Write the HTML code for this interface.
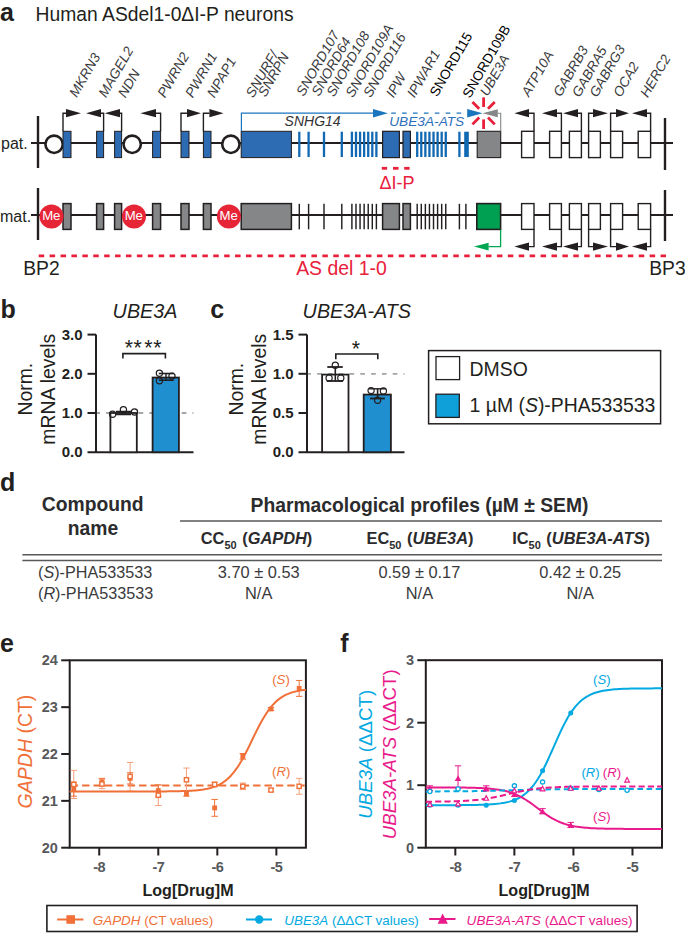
<!DOCTYPE html>
<html><head><meta charset="utf-8"><style>
html,body{margin:0;padding:0;background:#fff;}
svg{display:block;font-family:"Liberation Sans", sans-serif;}
</style></head><body>
<svg width="685" height="933" viewBox="0 0 685 933">
<rect width="685" height="933" fill="#fff"/>
<text x="0" y="21.2" font-size="25" fill="#231f20" font-weight="bold" font-style="normal" text-anchor="start" >a</text>
<text x="35.6" y="21" font-size="19.3" fill="#231f20" font-weight="normal" font-style="normal" text-anchor="start" >Human ASdel1-0ΔI-P neurons</text>
<text x="1" y="149.2" font-size="16" fill="#231f20" font-weight="normal" font-style="normal" text-anchor="start" >pat.</text>
<text x="0" y="221.8" font-size="16" fill="#231f20" font-weight="normal" font-style="normal" text-anchor="start" >mat.</text>
<line x1="31" y1="143.0" x2="673" y2="143.0" stroke="#231f20" stroke-width="1.8" />
<line x1="31" y1="215.0" x2="673" y2="215.0" stroke="#231f20" stroke-width="1.8" />
<line x1="38" y1="116" x2="38" y2="168" stroke="#231f20" stroke-width="2.4" />
<line x1="38" y1="188" x2="38" y2="240" stroke="#231f20" stroke-width="2.4" />
<line x1="665" y1="118" x2="665" y2="170" stroke="#231f20" stroke-width="2.4" />
<line x1="665" y1="190" x2="665" y2="241" stroke="#231f20" stroke-width="2.4" />
<circle cx="54.1" cy="144.3" r="8.65" fill="#fff" stroke="#231f20" stroke-width="2.6"/>
<circle cx="132.2" cy="144.3" r="8.65" fill="#fff" stroke="#231f20" stroke-width="2.6"/>
<circle cx="230.85" cy="144.3" r="8.65" fill="#fff" stroke="#231f20" stroke-width="2.6"/>
<rect x="63" y="131.3" width="8" height="26.299999999999983" fill="#2d6bb3" stroke="#231f20" stroke-width="1" />
<rect x="63" y="203.6" width="8" height="25.80000000000001" fill="#858688" stroke="#231f20" stroke-width="1.5" />
<rect x="96.6" y="131.3" width="7.0" height="26.299999999999983" fill="#2d6bb3" stroke="#231f20" stroke-width="1" />
<rect x="96.6" y="203.6" width="7.0" height="25.80000000000001" fill="#858688" stroke="#231f20" stroke-width="1.5" />
<rect x="114.6" y="131.3" width="7.0" height="26.299999999999983" fill="#2d6bb3" stroke="#231f20" stroke-width="1" />
<rect x="114.6" y="203.6" width="7.0" height="25.80000000000001" fill="#858688" stroke="#231f20" stroke-width="1.5" />
<rect x="152.6" y="131.3" width="8.0" height="26.299999999999983" fill="#2d6bb3" stroke="#231f20" stroke-width="1" />
<rect x="152.6" y="203.6" width="8.0" height="25.80000000000001" fill="#858688" stroke="#231f20" stroke-width="1.5" />
<rect x="181" y="131.3" width="8" height="26.299999999999983" fill="#2d6bb3" stroke="#231f20" stroke-width="1" />
<rect x="181" y="203.6" width="8" height="25.80000000000001" fill="#858688" stroke="#231f20" stroke-width="1.5" />
<rect x="203.4" y="131.3" width="7.599999999999994" height="26.299999999999983" fill="#2d6bb3" stroke="#231f20" stroke-width="1" />
<rect x="203.4" y="203.6" width="7.599999999999994" height="25.80000000000001" fill="#858688" stroke="#231f20" stroke-width="1.5" />
<rect x="241.2" y="131.3" width="50.2" height="26.299999999999983" fill="#2d6bb3" stroke="#231f20" stroke-width="1" />
<rect x="241.2" y="203.6" width="50.2" height="25.80000000000001" fill="#858688" stroke="#231f20" stroke-width="1.5" />
<rect x="382.6" y="131.3" width="16.799999999999955" height="26.299999999999983" fill="#2d6bb3" stroke="#231f20" stroke-width="1.2" />
<rect x="382.6" y="203.6" width="16.799999999999955" height="25.80000000000001" fill="#858688" stroke="#231f20" stroke-width="1.5" />
<rect x="403" y="131.3" width="7.399999999999977" height="26.299999999999983" fill="#2d6bb3" stroke="#231f20" stroke-width="1.2" />
<rect x="403" y="203.6" width="7.399999999999977" height="25.80000000000001" fill="#858688" stroke="#231f20" stroke-width="1.5" />
<line x1="299.3" y1="131.70000000000002" x2="299.3" y2="157.0" stroke="#1168b3" stroke-width="2.3" />
<line x1="308.6" y1="131.70000000000002" x2="308.6" y2="157.0" stroke="#1168b3" stroke-width="2.3" />
<line x1="324" y1="131.70000000000002" x2="324" y2="157.0" stroke="#1168b3" stroke-width="2.3" />
<line x1="341.8" y1="131.70000000000002" x2="341.8" y2="157.0" stroke="#1168b3" stroke-width="2.3" />
<line x1="351.9" y1="131.70000000000002" x2="351.9" y2="157.0" stroke="#1168b3" stroke-width="2.3" />
<line x1="355.97999999999996" y1="131.70000000000002" x2="355.97999999999996" y2="157.0" stroke="#1168b3" stroke-width="2.3" />
<line x1="360.06" y1="131.70000000000002" x2="360.06" y2="157.0" stroke="#1168b3" stroke-width="2.3" />
<line x1="364.14" y1="131.70000000000002" x2="364.14" y2="157.0" stroke="#1168b3" stroke-width="2.3" />
<line x1="368.21999999999997" y1="131.70000000000002" x2="368.21999999999997" y2="157.0" stroke="#1168b3" stroke-width="2.3" />
<line x1="372.29999999999995" y1="131.70000000000002" x2="372.29999999999995" y2="157.0" stroke="#1168b3" stroke-width="2.3" />
<line x1="376.38" y1="131.70000000000002" x2="376.38" y2="157.0" stroke="#1168b3" stroke-width="2.3" />
<line x1="417.2" y1="131.70000000000002" x2="417.2" y2="157.0" stroke="#1168b3" stroke-width="2.3" />
<line x1="421.28" y1="131.70000000000002" x2="421.28" y2="157.0" stroke="#1168b3" stroke-width="2.3" />
<line x1="425.36" y1="131.70000000000002" x2="425.36" y2="157.0" stroke="#1168b3" stroke-width="2.3" />
<line x1="429.44" y1="131.70000000000002" x2="429.44" y2="157.0" stroke="#1168b3" stroke-width="2.3" />
<line x1="433.52" y1="131.70000000000002" x2="433.52" y2="157.0" stroke="#1168b3" stroke-width="2.3" />
<line x1="437.59999999999997" y1="131.70000000000002" x2="437.59999999999997" y2="157.0" stroke="#1168b3" stroke-width="2.3" />
<line x1="441.68" y1="131.70000000000002" x2="441.68" y2="157.0" stroke="#1168b3" stroke-width="2.3" />
<line x1="445.76" y1="131.70000000000002" x2="445.76" y2="157.0" stroke="#1168b3" stroke-width="2.3" />
<line x1="459.4" y1="131.70000000000002" x2="459.4" y2="157.0" stroke="#1168b3" stroke-width="2.3" />
<rect x="464.2" y="131.70000000000002" width="4.6" height="25.299999999999983" fill="#1168b3" stroke="none" stroke-width="1" />
<line x1="299.3" y1="203.79999999999998" x2="299.3" y2="229.3" stroke="#231f20" stroke-width="1.45" />
<line x1="308.6" y1="203.79999999999998" x2="308.6" y2="229.3" stroke="#231f20" stroke-width="1.45" />
<line x1="324" y1="203.79999999999998" x2="324" y2="229.3" stroke="#231f20" stroke-width="1.45" />
<line x1="341.8" y1="203.79999999999998" x2="341.8" y2="229.3" stroke="#231f20" stroke-width="1.45" />
<line x1="351.9" y1="203.79999999999998" x2="351.9" y2="229.3" stroke="#231f20" stroke-width="1.45" />
<line x1="355.97999999999996" y1="203.79999999999998" x2="355.97999999999996" y2="229.3" stroke="#231f20" stroke-width="1.45" />
<line x1="360.06" y1="203.79999999999998" x2="360.06" y2="229.3" stroke="#231f20" stroke-width="1.45" />
<line x1="364.14" y1="203.79999999999998" x2="364.14" y2="229.3" stroke="#231f20" stroke-width="1.45" />
<line x1="368.21999999999997" y1="203.79999999999998" x2="368.21999999999997" y2="229.3" stroke="#231f20" stroke-width="1.45" />
<line x1="372.29999999999995" y1="203.79999999999998" x2="372.29999999999995" y2="229.3" stroke="#231f20" stroke-width="1.45" />
<line x1="376.38" y1="203.79999999999998" x2="376.38" y2="229.3" stroke="#231f20" stroke-width="1.45" />
<line x1="417.2" y1="203.79999999999998" x2="417.2" y2="229.3" stroke="#231f20" stroke-width="1.45" />
<line x1="421.28" y1="203.79999999999998" x2="421.28" y2="229.3" stroke="#231f20" stroke-width="1.45" />
<line x1="425.36" y1="203.79999999999998" x2="425.36" y2="229.3" stroke="#231f20" stroke-width="1.45" />
<line x1="429.44" y1="203.79999999999998" x2="429.44" y2="229.3" stroke="#231f20" stroke-width="1.45" />
<line x1="433.52" y1="203.79999999999998" x2="433.52" y2="229.3" stroke="#231f20" stroke-width="1.45" />
<line x1="437.59999999999997" y1="203.79999999999998" x2="437.59999999999997" y2="229.3" stroke="#231f20" stroke-width="1.45" />
<line x1="441.68" y1="203.79999999999998" x2="441.68" y2="229.3" stroke="#231f20" stroke-width="1.45" />
<line x1="445.76" y1="203.79999999999998" x2="445.76" y2="229.3" stroke="#231f20" stroke-width="1.45" />
<line x1="459.4" y1="203.79999999999998" x2="459.4" y2="229.3" stroke="#231f20" stroke-width="1.45" />
<line x1="465.9" y1="203.79999999999998" x2="465.9" y2="229.3" stroke="#231f20" stroke-width="1.45" />
<rect x="477.2" y="131.3" width="23.5" height="26.299999999999983" fill="#858688" stroke="#231f20" stroke-width="1.1" />
<rect x="476.8" y="203.6" width="23.8" height="25.80000000000001" fill="#00a053" stroke="#231f20" stroke-width="1.6" />
<rect x="521.6" y="131.3" width="12.399999999999977" height="26.299999999999983" fill="#fff" stroke="#231f20" stroke-width="1.4" />
<rect x="521.6" y="203.6" width="12.399999999999977" height="25.80000000000001" fill="#fff" stroke="#231f20" stroke-width="1.4" />
<rect x="549.6" y="131.3" width="11.799999999999955" height="26.299999999999983" fill="#fff" stroke="#231f20" stroke-width="1.4" />
<rect x="549.6" y="203.6" width="11.799999999999955" height="25.80000000000001" fill="#fff" stroke="#231f20" stroke-width="1.4" />
<rect x="569.4" y="131.3" width="12.0" height="26.299999999999983" fill="#fff" stroke="#231f20" stroke-width="1.4" />
<rect x="569.4" y="203.6" width="12.0" height="25.80000000000001" fill="#fff" stroke="#231f20" stroke-width="1.4" />
<rect x="588.6" y="131.3" width="11.799999999999955" height="26.299999999999983" fill="#fff" stroke="#231f20" stroke-width="1.4" />
<rect x="588.6" y="203.6" width="11.799999999999955" height="25.80000000000001" fill="#fff" stroke="#231f20" stroke-width="1.4" />
<rect x="610.6" y="131.3" width="12.0" height="26.299999999999983" fill="#fff" stroke="#231f20" stroke-width="1.4" />
<rect x="610.6" y="203.6" width="12.0" height="25.80000000000001" fill="#fff" stroke="#231f20" stroke-width="1.4" />
<rect x="638.2" y="131.3" width="12.399999999999977" height="26.299999999999983" fill="#fff" stroke="#231f20" stroke-width="1.4" />
<rect x="638.2" y="203.6" width="12.399999999999977" height="25.80000000000001" fill="#fff" stroke="#231f20" stroke-width="1.4" />
<path d="M63,131.3 L63,113.2 L66,113.2" stroke="#231f20" stroke-width="1.4" fill="none" />
<polygon points="81.00,113.20 66.00,109.10 66.00,117.30" fill="#231f20" />
<path d="M103.6,131.3 L103.6,113.2 L101,113.2" stroke="#231f20" stroke-width="1.4" fill="none" />
<polygon points="86.00,113.20 101.00,109.10 101.00,117.30" fill="#231f20" />
<path d="M121.6,131.3 L121.6,113.2 L120,113.2" stroke="#231f20" stroke-width="1.4" fill="none" />
<polygon points="104.60,113.20 120.00,109.10 120.00,117.30" fill="#231f20" />
<path d="M160.6,131.3 L160.6,113.2 L156,113.2" stroke="#231f20" stroke-width="1.4" fill="none" />
<polygon points="140.40,113.20 156.00,109.10 156.00,117.30" fill="#231f20" />
<path d="M181,131.3 L181,113.2 L187,113.2" stroke="#231f20" stroke-width="1.4" fill="none" />
<polygon points="201.00,113.20 187.00,109.10 187.00,117.30" fill="#231f20" />
<path d="M203.4,131.3 L203.4,113.2 L209.4,113.2" stroke="#231f20" stroke-width="1.4" fill="none" />
<polygon points="223.60,113.20 209.40,109.10 209.40,117.30" fill="#231f20" />
<path d="M534,131.3 L534,113.2 L529,113.2" stroke="#231f20" stroke-width="1.4" fill="none" />
<polygon points="514.40,113.20 529.00,109.10 529.00,117.30" fill="#231f20" />
<path d="M561.4,131.3 L561.4,113.2 L557,113.2" stroke="#231f20" stroke-width="1.4" fill="none" />
<polygon points="542.00,113.20 557.00,109.10 557.00,117.30" fill="#231f20" />
<path d="M581.4,131.3 L581.4,113.2 L578,113.2" stroke="#231f20" stroke-width="1.4" fill="none" />
<polygon points="563.00,113.20 578.00,109.10 578.00,117.30" fill="#231f20" />
<path d="M588.6,131.3 L588.6,113.2 L593,113.2" stroke="#231f20" stroke-width="1.4" fill="none" />
<polygon points="608.00,113.20 593.00,109.10 593.00,117.30" fill="#231f20" />
<path d="M610.6,131.3 L610.6,113.2 L616,113.2" stroke="#231f20" stroke-width="1.4" fill="none" />
<polygon points="629.00,113.20 616.00,109.10 616.00,117.30" fill="#231f20" />
<path d="M650.6,131.3 L650.6,113.2 L647,113.2" stroke="#231f20" stroke-width="1.4" fill="none" />
<polygon points="632.00,113.20 647.00,109.10 647.00,117.30" fill="#231f20" />
<path d="M534,229.4 L534,246.6 L529,246.6" stroke="#231f20" stroke-width="1.4" fill="none" />
<polygon points="514.40,246.60 529.00,242.50 529.00,250.70" fill="#231f20" />
<path d="M561.4,229.4 L561.4,246.6 L557,246.6" stroke="#231f20" stroke-width="1.4" fill="none" />
<polygon points="542.00,246.60 557.00,242.50 557.00,250.70" fill="#231f20" />
<path d="M581.4,229.4 L581.4,246.6 L578,246.6" stroke="#231f20" stroke-width="1.4" fill="none" />
<polygon points="563.00,246.60 578.00,242.50 578.00,250.70" fill="#231f20" />
<path d="M588.6,229.4 L588.6,246.6 L593,246.6" stroke="#231f20" stroke-width="1.4" fill="none" />
<polygon points="608.00,246.60 593.00,242.50 593.00,250.70" fill="#231f20" />
<path d="M610.6,229.4 L610.6,246.6 L616,246.6" stroke="#231f20" stroke-width="1.4" fill="none" />
<polygon points="629.00,246.60 616.00,242.50 616.00,250.70" fill="#231f20" />
<path d="M650.6,229.4 L650.6,246.6 L647,246.6" stroke="#231f20" stroke-width="1.4" fill="none" />
<polygon points="632.00,246.60 647.00,242.50 647.00,250.70" fill="#231f20" />
<path d="M241.4,131.3 L241.4,113.2 L374,113.2" stroke="#1b75bc" stroke-width="1.2" fill="none" />
<polygon points="387.90,113.20 373.00,109.00 373.00,117.40" fill="#1b75bc" />
<line x1="391.2" y1="113.2" x2="465" y2="113.2" stroke="#1b75bc" stroke-width="1.2" stroke-dasharray="4.6 6.3"/>
<text x="284.6" y="126.3" font-size="14" fill="#333" font-weight="normal" font-style="italic" text-anchor="start" >SNHG14</text>
<text x="389.2" y="125.8" font-size="13.7" fill="#2f6fba" font-weight="normal" font-style="italic" text-anchor="start" >UBE3A-ATS</text>
<polygon points="482.50,113.20 467.20,109.00 467.20,117.40" fill="#1b75bc" />
<path d="M500.7,131.3 L500.7,113.2 L497.8,113.2" stroke="#858688" stroke-width="1.1" fill="none" />
<polygon points="482.60,113.20 497.80,109.20 497.80,117.20" fill="#858688" />
<line x1="483.60" y1="107.00" x2="483.60" y2="97.40" stroke="#e8203a" stroke-width="2.8" />
<line x1="483.60" y1="119.40" x2="483.60" y2="129.00" stroke="#e8203a" stroke-width="2.8" />
<line x1="487.98" y1="108.82" x2="494.77" y2="102.03" stroke="#e8203a" stroke-width="2.8" />
<line x1="479.22" y1="108.82" x2="472.43" y2="102.03" stroke="#e8203a" stroke-width="2.8" />
<line x1="479.22" y1="117.58" x2="472.43" y2="124.37" stroke="#e8203a" stroke-width="2.8" />
<line x1="487.98" y1="117.58" x2="494.77" y2="124.37" stroke="#e8203a" stroke-width="2.8" />
<path d="M500.6,229.4 L500.6,246.6 L488.4,246.6" stroke="#00a651" stroke-width="1.3" fill="none" />
<polygon points="474.00,246.60 488.60,242.80 488.60,250.40" fill="#00a651" />
<circle cx="51.5" cy="216.5" r="12" fill="#e62537"/>
<text x="51.3" y="219.7" font-size="13.2" fill="#fff" font-weight="normal" font-style="normal" text-anchor="middle" >Me</text>
<circle cx="134" cy="216.5" r="12" fill="#e62537"/>
<text x="133.8" y="219.7" font-size="13.2" fill="#fff" font-weight="normal" font-style="normal" text-anchor="middle" >Me</text>
<circle cx="228.9" cy="216.5" r="12" fill="#e62537"/>
<text x="228.70000000000002" y="219.7" font-size="13.2" fill="#fff" font-weight="normal" font-style="normal" text-anchor="middle" >Me</text>
<line x1="381.8" y1="168.3" x2="387.1" y2="168.3" stroke="#e8203a" stroke-width="2.8" />
<line x1="393" y1="168.3" x2="398.5" y2="168.3" stroke="#e8203a" stroke-width="2.8" />
<line x1="404.2" y1="168.3" x2="409.6" y2="168.3" stroke="#e8203a" stroke-width="2.8" />
<text x="379.4" y="189" font-size="18" fill="#e8203a" font-weight="normal" font-style="normal" text-anchor="start" >ΔI-P</text>
<line x1="38.7" y1="255.8" x2="666" y2="255.8" stroke="#e8203a" stroke-width="2.8" stroke-dasharray="5.5 5.41"/>
<text x="23.2" y="274.6" font-size="19.3" fill="#231f20" font-weight="normal" font-style="normal" text-anchor="start" >BP2</text>
<text x="649.2" y="274.6" font-size="19.3" fill="#231f20" font-weight="normal" font-style="normal" text-anchor="start" >BP3</text>
<text x="296.2" y="274.6" font-size="19.4" fill="#e8203a" font-weight="normal" font-style="normal" text-anchor="start" >AS del 1-0</text>
<text x="76.80" y="98.10" font-size="13.7" fill="#3a3a3c" font-weight="normal" font-style="italic" text-anchor="start" transform="rotate(-60 76.80 98.10)">MKRN3</text>
<text x="106.10" y="98.20" font-size="13.7" fill="#3a3a3c" font-weight="normal" font-style="italic" text-anchor="start" transform="rotate(-60 106.10 98.20)">MAGEL2</text>
<text x="125.50" y="98.60" font-size="13.7" fill="#3a3a3c" font-weight="normal" font-style="italic" text-anchor="start" transform="rotate(-60 125.50 98.60)">NDN</text>
<text x="164.90" y="98.60" font-size="13.7" fill="#3a3a3c" font-weight="normal" font-style="italic" text-anchor="start" transform="rotate(-60 164.90 98.60)">PWRN2</text>
<text x="192.80" y="98.60" font-size="13.7" fill="#3a3a3c" font-weight="normal" font-style="italic" text-anchor="start" transform="rotate(-60 192.80 98.60)">PWRN1</text>
<text x="214.60" y="98.60" font-size="13.7" fill="#3a3a3c" font-weight="normal" font-style="italic" text-anchor="start" transform="rotate(-60 214.60 98.60)">NPAP1</text>
<text x="253.20" y="98.50" font-size="13.7" fill="#3a3a3c" font-weight="normal" font-style="italic" text-anchor="start" transform="rotate(-60 253.20 98.50)">SNURF/</text>
<text x="265.45" y="97.70" font-size="13.7" fill="#3a3a3c" font-weight="normal" font-style="italic" text-anchor="start" transform="rotate(-60 265.45 97.70)">SNRPN</text>
<text x="303.70" y="96.90" font-size="13.7" fill="#3a3a3c" font-weight="normal" font-style="italic" text-anchor="start" transform="rotate(-60 303.70 96.90)">SNORD107</text>
<text x="319.00" y="96.90" font-size="13.7" fill="#3a3a3c" font-weight="normal" font-style="italic" text-anchor="start" transform="rotate(-60 319.00 96.90)">SNORD64</text>
<text x="333.90" y="97.60" font-size="13.7" fill="#3a3a3c" font-weight="normal" font-style="italic" text-anchor="start" transform="rotate(-60 333.90 97.60)">SNORD108</text>
<text x="353.10" y="98.30" font-size="13.7" fill="#3a3a3c" font-weight="normal" font-style="italic" text-anchor="start" transform="rotate(-60 353.10 98.30)">SNORD109A</text>
<text x="370.80" y="98.30" font-size="13.7" fill="#3a3a3c" font-weight="normal" font-style="italic" text-anchor="start" transform="rotate(-60 370.80 98.30)">SNORD116</text>
<text x="393.50" y="98.60" font-size="13.7" fill="#3a3a3c" font-weight="normal" font-style="italic" text-anchor="start" transform="rotate(-60 393.50 98.60)">IPW</text>
<text x="414.50" y="98.60" font-size="13.7" fill="#3a3a3c" font-weight="normal" font-style="italic" text-anchor="start" transform="rotate(-60 414.50 98.60)">IPWAR1</text>
<text x="437.30" y="97.60" font-size="13.7" fill="#000" font-weight="normal" font-style="normal" text-anchor="start" transform="rotate(-60 437.30 97.60)">SNORD115</text>
<text x="470.00" y="99.00" font-size="13.7" fill="#000" font-weight="normal" font-style="normal" text-anchor="start" transform="rotate(-60 470.00 99.00)">SNORD109B</text>
<text x="487.40" y="97.00" font-size="13.7" fill="#3a3a3c" font-weight="normal" font-style="italic" text-anchor="start" transform="rotate(-60 487.40 97.00)">UBE3A</text>
<text x="529.00" y="97.60" font-size="13.7" fill="#3a3a3c" font-weight="normal" font-style="italic" text-anchor="start" transform="rotate(-60 529.00 97.60)">ATP10A</text>
<text x="560.80" y="97.50" font-size="13.7" fill="#3a3a3c" font-weight="normal" font-style="italic" text-anchor="start" transform="rotate(-60 560.80 97.50)">GABRB3</text>
<text x="579.60" y="97.90" font-size="13.7" fill="#3a3a3c" font-weight="normal" font-style="italic" text-anchor="start" transform="rotate(-60 579.60 97.90)">GABRA5</text>
<text x="597.00" y="97.90" font-size="13.7" fill="#3a3a3c" font-weight="normal" font-style="italic" text-anchor="start" transform="rotate(-60 597.00 97.90)">GABRG3</text>
<text x="620.80" y="97.90" font-size="13.7" fill="#3a3a3c" font-weight="normal" font-style="italic" text-anchor="start" transform="rotate(-60 620.80 97.90)">OCA2</text>
<text x="647.80" y="98.30" font-size="13.7" fill="#3a3a3c" font-weight="normal" font-style="italic" text-anchor="start" transform="rotate(-60 647.80 98.30)">HERC2</text>
<line x1="95.3" y1="413.0" x2="193.5" y2="413.0" stroke="#a2a6a9" stroke-width="1.8" stroke-dasharray="4.7 6.1"/>
<line x1="96" y1="334.6" x2="96" y2="452.2" stroke="#231f20" stroke-width="2" />
<line x1="87.5" y1="452.2" x2="193.5" y2="452.2" stroke="#231f20" stroke-width="2" />
<text x="82.6" y="457.4" font-size="15" fill="#231f20" font-weight="bold" font-style="normal" text-anchor="end" >0.0</text>
<line x1="87.5" y1="413.0" x2="96" y2="413.0" stroke="#231f20" stroke-width="2" />
<text x="82.6" y="418.2" font-size="15" fill="#231f20" font-weight="bold" font-style="normal" text-anchor="end" >1.0</text>
<line x1="87.5" y1="373.8" x2="96" y2="373.8" stroke="#231f20" stroke-width="2" />
<text x="82.6" y="379.0" font-size="15" fill="#231f20" font-weight="bold" font-style="normal" text-anchor="end" >2.0</text>
<line x1="87.5" y1="334.6" x2="96" y2="334.6" stroke="#231f20" stroke-width="2" />
<text x="82.6" y="339.8" font-size="15" fill="#231f20" font-weight="bold" font-style="normal" text-anchor="end" >3.0</text>
<rect x="110.4" y="413.0" width="26.400000000000006" height="39.19999999999999" fill="#fff" stroke="#231f20" stroke-width="1.8" />
<rect x="152.6" y="377.5632" width="26.30000000000001" height="74.6368" fill="#208fcf" stroke="#231f20" stroke-width="1.8" />
<line x1="306.3" y1="373.8" x2="404.5" y2="373.8" stroke="#a2a6a9" stroke-width="1.8" stroke-dasharray="4.7 6.1"/>
<line x1="307" y1="334.6" x2="307" y2="452.2" stroke="#231f20" stroke-width="2" />
<line x1="298.5" y1="452.2" x2="404.5" y2="452.2" stroke="#231f20" stroke-width="2" />
<text x="293.6" y="457.4" font-size="15" fill="#231f20" font-weight="bold" font-style="normal" text-anchor="end" >0.0</text>
<line x1="298.5" y1="413.0" x2="307" y2="413.0" stroke="#231f20" stroke-width="2" />
<text x="293.6" y="418.2" font-size="15" fill="#231f20" font-weight="bold" font-style="normal" text-anchor="end" >0.5</text>
<line x1="298.5" y1="373.8" x2="307" y2="373.8" stroke="#231f20" stroke-width="2" />
<text x="293.6" y="379.0" font-size="15" fill="#231f20" font-weight="bold" font-style="normal" text-anchor="end" >1.0</text>
<line x1="298.5" y1="334.6" x2="307" y2="334.6" stroke="#231f20" stroke-width="2" />
<text x="293.6" y="339.8" font-size="15" fill="#231f20" font-weight="bold" font-style="normal" text-anchor="end" >1.5</text>
<rect x="322.1" y="374.584" width="26.399999999999977" height="77.61599999999999" fill="#fff" stroke="#231f20" stroke-width="1.8" />
<rect x="363.7" y="394.576" width="27.19999999999999" height="57.62399999999997" fill="#208fcf" stroke="#231f20" stroke-width="1.8" />
<text x="0.5" y="317.8" font-size="25" fill="#231f20" font-weight="bold" font-style="normal" text-anchor="start" >b</text>
<text x="112.6" y="317.6" font-size="19.8" fill="#231f20" font-weight="normal" font-style="italic" text-anchor="start" >UBE3A</text>
<text x="210.3" y="318" font-size="25" fill="#231f20" font-weight="bold" font-style="normal" text-anchor="start" >c</text>
<text x="302.6" y="317.8" font-size="19.8" fill="#231f20" font-weight="normal" font-style="italic" text-anchor="start" >UBE3A-ATS</text>
<text x="31.8" y="389.2" font-size="19.4" fill="#231f20" font-weight="normal" font-style="normal" text-anchor="middle" transform="rotate(-90 31.8 389.2)">Norm.</text>
<text x="55.1" y="389.2" font-size="19.4" fill="#231f20" font-weight="normal" font-style="normal" text-anchor="middle" transform="rotate(-90 55.1 389.2)">mRNA levels</text>
<text x="243.1" y="389.2" font-size="19.4" fill="#231f20" font-weight="normal" font-style="normal" text-anchor="middle" transform="rotate(-90 243.1 389.2)">Norm.</text>
<text x="266.4" y="389.2" font-size="19.4" fill="#231f20" font-weight="normal" font-style="normal" text-anchor="middle" transform="rotate(-90 266.4 389.2)">mRNA levels</text>
<path d="M122.9,358.6 L122.9,353.6 L165.4,353.6 L165.4,358.6" stroke="#231f20" stroke-width="1.6" fill="none" />
<text x="128.8" y="355.4" font-size="21.3" fill="#231f20" font-weight="normal" font-style="normal" text-anchor="middle" >*</text>
<text x="137.7" y="355.4" font-size="21.3" fill="#231f20" font-weight="normal" font-style="normal" text-anchor="middle" >*</text>
<text x="148.5" y="355.4" font-size="21.3" fill="#231f20" font-weight="normal" font-style="normal" text-anchor="middle" >*</text>
<text x="157.4" y="355.4" font-size="21.3" fill="#231f20" font-weight="normal" font-style="normal" text-anchor="middle" >*</text>
<path d="M335.8,359.2 L335.8,354 L377.8,354 L377.8,359.2" stroke="#231f20" stroke-width="1.6" fill="none" />
<text x="355.8" y="356.2" font-size="21.3" fill="#231f20" font-weight="normal" font-style="normal" text-anchor="middle" >*</text>
<circle cx="112.6" cy="414.3" r="3.1" fill="none" stroke="#231f20" stroke-width="1.2"/>
<circle cx="123.4" cy="409.8" r="3.1" fill="none" stroke="#231f20" stroke-width="1.2"/>
<circle cx="134.5" cy="412" r="3.1" fill="none" stroke="#231f20" stroke-width="1.2"/>
<line x1="116" y1="411.6" x2="131" y2="411.6" stroke="#231f20" stroke-width="1.7" />
<line x1="116" y1="414.4" x2="131" y2="414.4" stroke="#231f20" stroke-width="1.7" />
<circle cx="159.4" cy="373.2" r="3.1" fill="none" stroke="#231f20" stroke-width="1.2"/>
<circle cx="159.4" cy="380.8" r="3.1" fill="none" stroke="#231f20" stroke-width="1.2"/>
<circle cx="172" cy="376.1" r="3.1" fill="none" stroke="#231f20" stroke-width="1.2"/>
<line x1="166" y1="373.5" x2="166" y2="380.2" stroke="#231f20" stroke-width="1.4" />
<line x1="158.8" y1="373.5" x2="173.7" y2="373.5" stroke="#231f20" stroke-width="1.6" />
<line x1="158.8" y1="380.2" x2="173.7" y2="380.2" stroke="#231f20" stroke-width="1.6" />
<line x1="335.3" y1="367" x2="335.3" y2="381" stroke="#231f20" stroke-width="1.6" />
<line x1="327.3" y1="367" x2="342.8" y2="367" stroke="#231f20" stroke-width="1.8" />
<line x1="326.8" y1="381" x2="343.1" y2="381" stroke="#231f20" stroke-width="1.8" />
<circle cx="335.3" cy="365.3" r="3.1" fill="none" stroke="#231f20" stroke-width="1.2"/>
<circle cx="329.1" cy="378.1" r="3.1" fill="none" stroke="#231f20" stroke-width="1.2"/>
<circle cx="340.8" cy="378.1" r="3.1" fill="none" stroke="#231f20" stroke-width="1.2"/>
<line x1="377.6" y1="388.6" x2="377.6" y2="398.5" stroke="#231f20" stroke-width="1.6" />
<line x1="370" y1="398.5" x2="384.8" y2="398.5" stroke="#231f20" stroke-width="1.8" />
<line x1="369" y1="388.8" x2="386" y2="388.8" stroke="#231f20" stroke-width="1.4" />
<circle cx="371.1" cy="390.6" r="3.1" fill="none" stroke="#231f20" stroke-width="1.2"/>
<circle cx="383.4" cy="391" r="3.1" fill="none" stroke="#231f20" stroke-width="1.2"/>
<circle cx="377.6" cy="400.3" r="3.1" fill="none" stroke="#231f20" stroke-width="1.2"/>
<rect x="428.6" y="350.6" width="232" height="73.2" fill="none" stroke="#231f20" stroke-width="1.5" />
<rect x="436" y="356.6" width="23.6" height="23" fill="#fff" stroke="#231f20" stroke-width="1.3" />
<rect x="435.9" y="394.2" width="23.4" height="23.2" fill="#0fa0da" stroke="#231f20" stroke-width="1.3" />
<text x="469.6" y="376.2" font-size="19.4" fill="#231f20" font-weight="normal" font-style="normal" text-anchor="start" >DMSO</text>
<text x="469.6" y="412.4" font-size="19.4" fill="#231f20" font-weight="normal" font-style="normal" text-anchor="start" >1 µM (<tspan font-style="italic">S</tspan>)-PHA533533</text>
<text x="0" y="491.3" font-size="25" fill="#231f20" font-weight="bold" font-style="normal" text-anchor="start" >d</text>
<text x="92.7" y="511" font-size="19.3" fill="#2b2b2d" font-weight="bold" font-style="normal" text-anchor="middle" >Compound</text>
<text x="93" y="534.6" font-size="19.3" fill="#2b2b2d" font-weight="bold" font-style="normal" text-anchor="middle" >name</text>
<text x="419.5" y="511.6" font-size="19.3" fill="#2b2b2d" font-weight="bold" font-style="normal" text-anchor="middle" >Pharmacological profiles (µM ± SEM)</text>
<line x1="180" y1="521" x2="662" y2="521" stroke="#58595b" stroke-width="1.5" />
<line x1="22.4" y1="554.7" x2="662" y2="554.7" stroke="#58595b" stroke-width="1.5" />
<line x1="22.4" y1="560.5" x2="662" y2="560.5" stroke="#58595b" stroke-width="1.5" />
<text x="256.5" y="543.5" font-size="16.4" fill="#2b2b2d" font-weight="bold" font-style="normal" text-anchor="middle" >CC<tspan font-size="11" dy="5">50</tspan><tspan dy="-5" dx="1"> (</tspan><tspan font-style="italic">GAPDH</tspan>)</text>
<text x="420" y="543.5" font-size="16.4" fill="#2b2b2d" font-weight="bold" font-style="normal" text-anchor="middle" >EC<tspan font-size="11" dy="5">50</tspan><tspan dy="-5" dx="1"> (</tspan><tspan font-style="italic">UBE3A</tspan>)</text>
<text x="581" y="543.5" font-size="16.4" fill="#2b2b2d" font-weight="bold" font-style="normal" text-anchor="middle" >IC<tspan font-size="11" dy="5">50</tspan><tspan dy="-5" dx="1"> (</tspan><tspan font-style="italic">UBE3A-ATS</tspan>)</text>
<text x="38" y="578.2" font-size="16.2" fill="#3a3a3c" font-weight="normal" font-style="normal" text-anchor="start" >(<tspan font-style="italic">S</tspan>)-PHA533533</text>
<text x="38" y="599.3" font-size="16.2" fill="#3a3a3c" font-weight="normal" font-style="normal" text-anchor="start" >(<tspan font-style="italic">R</tspan>)-PHA533533</text>
<text x="258.7" y="578.1" font-size="16.4" fill="#3a3a3c" font-weight="normal" font-style="normal" text-anchor="middle" >3.70 ± 0.53</text>
<text x="258.7" y="599.3" font-size="16.4" fill="#3a3a3c" font-weight="normal" font-style="normal" text-anchor="middle" >N/A</text>
<text x="419.4" y="578.1" font-size="16.4" fill="#3a3a3c" font-weight="normal" font-style="normal" text-anchor="middle" >0.59 ± 0.17</text>
<text x="419.4" y="599.3" font-size="16.4" fill="#3a3a3c" font-weight="normal" font-style="normal" text-anchor="middle" >N/A</text>
<text x="580.2" y="578.1" font-size="16.4" fill="#3a3a3c" font-weight="normal" font-style="normal" text-anchor="middle" >0.42 ± 0.25</text>
<text x="580.2" y="599.3" font-size="16.4" fill="#3a3a3c" font-weight="normal" font-style="normal" text-anchor="middle" >N/A</text>
<rect x="69.7" y="660.3" width="236.2" height="187.4000000000001" fill="none" stroke="#231f20" stroke-width="2" />
<line x1="61.2" y1="847.7" x2="69.7" y2="847.7" stroke="#231f20" stroke-width="2" />
<text x="57.900000000000006" y="852.5" font-size="14.5" fill="#58595b" font-weight="bold" font-style="normal" text-anchor="end" >20</text>
<line x1="61.2" y1="800.85" x2="69.7" y2="800.85" stroke="#231f20" stroke-width="2" />
<text x="57.900000000000006" y="805.65" font-size="14.5" fill="#58595b" font-weight="bold" font-style="normal" text-anchor="end" >21</text>
<line x1="61.2" y1="754.0" x2="69.7" y2="754.0" stroke="#231f20" stroke-width="2" />
<text x="57.900000000000006" y="758.8" font-size="14.5" fill="#58595b" font-weight="bold" font-style="normal" text-anchor="end" >22</text>
<line x1="61.2" y1="707.15" x2="69.7" y2="707.15" stroke="#231f20" stroke-width="2" />
<text x="57.900000000000006" y="711.9499999999999" font-size="14.5" fill="#58595b" font-weight="bold" font-style="normal" text-anchor="end" >23</text>
<line x1="61.2" y1="660.3" x2="69.7" y2="660.3" stroke="#231f20" stroke-width="2" />
<text x="57.900000000000006" y="665.0999999999999" font-size="14.5" fill="#58595b" font-weight="bold" font-style="normal" text-anchor="end" >24</text>
<line x1="99.225" y1="847.7" x2="99.225" y2="855.5" stroke="#231f20" stroke-width="2" />
<text x="99.225" y="871.9000000000001" font-size="14.5" fill="#58595b" font-weight="bold" font-style="normal" text-anchor="middle" letter-spacing="-0.6">-8</text>
<line x1="158.27499999999998" y1="847.7" x2="158.27499999999998" y2="855.5" stroke="#231f20" stroke-width="2" />
<text x="158.27499999999998" y="871.9000000000001" font-size="14.5" fill="#58595b" font-weight="bold" font-style="normal" text-anchor="middle" letter-spacing="-0.6">-7</text>
<line x1="217.325" y1="847.7" x2="217.325" y2="855.5" stroke="#231f20" stroke-width="2" />
<text x="217.325" y="871.9000000000001" font-size="14.5" fill="#58595b" font-weight="bold" font-style="normal" text-anchor="middle" letter-spacing="-0.6">-6</text>
<line x1="276.375" y1="847.7" x2="276.375" y2="855.5" stroke="#231f20" stroke-width="2" />
<text x="276.375" y="871.9000000000001" font-size="14.5" fill="#58595b" font-weight="bold" font-style="normal" text-anchor="middle" letter-spacing="-0.6">-5</text>
<text x="188.0" y="896" font-size="16.1" fill="#231f20" font-weight="bold" font-style="normal" text-anchor="middle" >Log[Drug]M</text>
<text x="0" y="652.4" font-size="25" fill="#231f20" font-weight="bold" font-style="normal" text-anchor="start" >e</text>
<text x="31.5" y="751.5" font-size="19.5" fill="#f07038" font-weight="normal" font-style="normal" text-anchor="middle" transform="rotate(-90 31.5 751.5)"><tspan font-style="italic">GAPDH</tspan> (CT)</text>
<path d="M69.70,791.48 L71.67,791.48 L73.64,791.48 L75.60,791.48 L77.57,791.48 L79.54,791.48 L81.51,791.48 L83.48,791.48 L85.45,791.48 L87.42,791.48 L89.38,791.48 L91.35,791.48 L93.32,791.48 L95.29,791.48 L97.26,791.48 L99.22,791.48 L101.19,791.48 L103.16,791.48 L105.13,791.48 L107.10,791.48 L109.07,791.48 L111.04,791.48 L113.00,791.48 L114.97,791.48 L116.94,791.48 L118.91,791.48 L120.88,791.48 L122.85,791.48 L124.81,791.48 L126.78,791.48 L128.75,791.47 L130.72,791.47 L132.69,791.47 L134.65,791.47 L136.62,791.47 L138.59,791.47 L140.56,791.47 L142.53,791.46 L144.50,791.46 L146.46,791.46 L148.43,791.46 L150.40,791.45 L152.37,791.45 L154.34,791.44 L156.31,791.43 L158.27,791.43 L160.24,791.42 L162.21,791.41 L164.18,791.39 L166.15,791.38 L168.12,791.36 L170.09,791.34 L172.05,791.31 L174.02,791.29 L175.99,791.25 L177.96,791.21 L179.93,791.17 L181.90,791.12 L183.86,791.05 L185.83,790.98 L187.80,790.90 L189.77,790.80 L191.74,790.68 L193.70,790.55 L195.67,790.39 L197.64,790.20 L199.61,789.99 L201.58,789.74 L203.55,789.45 L205.51,789.11 L207.48,788.71 L209.45,788.25 L211.42,787.72 L213.39,787.10 L215.36,786.39 L217.32,785.56 L219.29,784.62 L221.26,783.53 L223.23,782.29 L225.20,780.88 L227.17,779.28 L229.13,777.47 L231.10,775.45 L233.07,773.19 L235.04,770.69 L237.01,767.94 L238.98,764.95 L240.94,761.71 L242.91,758.26 L244.88,754.60 L246.85,750.78 L248.82,746.83 L250.79,742.79 L252.75,738.72 L254.72,734.67 L256.69,730.68 L258.66,726.80 L260.63,723.07 L262.60,719.53 L264.56,716.21 L266.53,713.12 L268.50,710.27 L270.47,707.67 L272.44,705.32 L274.41,703.20 L276.38,701.31 L278.34,699.63 L280.31,698.14 L282.28,696.83 L284.25,695.69 L286.22,694.69 L288.19,693.82 L290.15,693.06 L292.12,692.41 L294.09,691.84 L296.06,691.36 L298.03,690.94 L300.00,690.57 L301.96,690.26 L303.93,690.00 L305.90,689.77" stroke="#f07038" stroke-width="2" fill="none"  stroke-linejoin="round"/>
<line x1="70.7" y1="785.3895000000001" x2="304.7" y2="785.3895000000001" stroke="#f07038" stroke-width="2" stroke-dasharray="7.4 4"/>
<line x1="73.77445000000006" y1="770.3974999999999" x2="73.77445000000006" y2="798.5074999999999" stroke="#f4a07a" stroke-width="1" />
<line x1="70.57445000000006" y1="770.3974999999999" x2="76.97445000000006" y2="770.3974999999999" stroke="#f4a07a" stroke-width="1" />
<line x1="70.57445000000006" y1="798.5074999999999" x2="76.97445000000006" y2="798.5074999999999" stroke="#f4a07a" stroke-width="1" />
<line x1="73.77445000000006" y1="782.1100000000001" x2="73.77445000000006" y2="796.165" stroke="#f07038" stroke-width="1" />
<line x1="70.57445000000006" y1="782.1100000000001" x2="76.97445000000006" y2="782.1100000000001" stroke="#f07038" stroke-width="1" />
<line x1="70.57445000000006" y1="796.165" x2="76.97445000000006" y2="796.165" stroke="#f07038" stroke-width="1" />
<rect x="71.37445000000005" y="786.7375000000001" width="4.8" height="4.8" fill="#f07038" stroke="none" stroke-width="1" />
<rect x="71.67445000000006" y="782.3525" width="4.2" height="4.2" fill="#fff" stroke="#f07038" stroke-width="1.4" />
<line x1="101.94720500000005" y1="779.299" x2="101.94720500000005" y2="788.6690000000001" stroke="#f4a07a" stroke-width="1" />
<line x1="98.74720500000005" y1="779.299" x2="105.14720500000006" y2="779.299" stroke="#f4a07a" stroke-width="1" />
<line x1="98.74720500000005" y1="788.6690000000001" x2="105.14720500000006" y2="788.6690000000001" stroke="#f4a07a" stroke-width="1" />
<line x1="101.94720500000005" y1="778.3620000000002" x2="101.94720500000005" y2="785.858" stroke="#f07038" stroke-width="1" />
<line x1="98.74720500000005" y1="778.3620000000002" x2="105.14720500000006" y2="778.3620000000002" stroke="#f07038" stroke-width="1" />
<line x1="98.74720500000005" y1="785.858" x2="105.14720500000006" y2="785.858" stroke="#f07038" stroke-width="1" />
<rect x="99.54720500000005" y="779.7100000000002" width="4.8" height="4.8" fill="#f07038" stroke="none" stroke-width="1" />
<rect x="99.84720500000006" y="781.884" width="4.2" height="4.2" fill="#fff" stroke="#f07038" stroke-width="1.4" />
<line x1="130.11996000000005" y1="762.433" x2="130.11996000000005" y2="790.5430000000001" stroke="#f4a07a" stroke-width="1" />
<line x1="126.91996000000005" y1="762.433" x2="133.31996000000004" y2="762.433" stroke="#f4a07a" stroke-width="1" />
<line x1="126.91996000000005" y1="790.5430000000001" x2="133.31996000000004" y2="790.5430000000001" stroke="#f4a07a" stroke-width="1" />
<line x1="130.11996000000005" y1="772.7399999999999" x2="130.11996000000005" y2="783.984" stroke="#f07038" stroke-width="1" />
<line x1="126.91996000000005" y1="772.7399999999999" x2="133.31996000000004" y2="772.7399999999999" stroke="#f07038" stroke-width="1" />
<line x1="126.91996000000005" y1="783.984" x2="133.31996000000004" y2="783.984" stroke="#f07038" stroke-width="1" />
<rect x="127.71996000000004" y="775.962" width="4.8" height="4.8" fill="#f07038" stroke="none" stroke-width="1" />
<rect x="128.01996000000005" y="774.388" width="4.2" height="4.2" fill="#fff" stroke="#f07038" stroke-width="1.4" />
<line x1="158.29271500000004" y1="784.921" x2="158.29271500000004" y2="805.535" stroke="#f4a07a" stroke-width="1" />
<line x1="155.09271500000006" y1="784.921" x2="161.49271500000003" y2="784.921" stroke="#f4a07a" stroke-width="1" />
<line x1="155.09271500000006" y1="805.535" x2="161.49271500000003" y2="805.535" stroke="#f4a07a" stroke-width="1" />
<line x1="158.29271500000004" y1="784.921" x2="158.29271500000004" y2="796.1650000000001" stroke="#f07038" stroke-width="1" />
<line x1="155.09271500000006" y1="784.921" x2="161.49271500000003" y2="784.921" stroke="#f07038" stroke-width="1" />
<line x1="155.09271500000006" y1="796.1650000000001" x2="161.49271500000003" y2="796.1650000000001" stroke="#f07038" stroke-width="1" />
<rect x="155.89271500000004" y="788.1430000000001" width="4.8" height="4.8" fill="#f07038" stroke="none" stroke-width="1" />
<rect x="156.19271500000005" y="793.1279999999999" width="4.2" height="4.2" fill="#fff" stroke="#f07038" stroke-width="1.4" />
<line x1="186.46547000000007" y1="768.0550000000001" x2="186.46547000000007" y2="791.48" stroke="#f4a07a" stroke-width="1" />
<line x1="183.26547000000008" y1="768.0550000000001" x2="189.66547000000006" y2="768.0550000000001" stroke="#f4a07a" stroke-width="1" />
<line x1="183.26547000000008" y1="791.48" x2="189.66547000000006" y2="791.48" stroke="#f4a07a" stroke-width="1" />
<line x1="186.46547000000007" y1="791.48" x2="186.46547000000007" y2="796.1650000000001" stroke="#f07038" stroke-width="1" />
<line x1="183.26547000000008" y1="791.48" x2="189.66547000000006" y2="791.48" stroke="#f07038" stroke-width="1" />
<line x1="183.26547000000008" y1="796.1650000000001" x2="189.66547000000006" y2="796.1650000000001" stroke="#f07038" stroke-width="1" />
<rect x="184.06547000000006" y="791.4225000000001" width="4.8" height="4.8" fill="#f07038" stroke="none" stroke-width="1" />
<rect x="184.36547000000007" y="777.6675" width="4.2" height="4.2" fill="#fff" stroke="#f07038" stroke-width="1.4" />
<line x1="214.6382250000001" y1="782.1099999999999" x2="214.6382250000001" y2="786.795" stroke="#f4a07a" stroke-width="1" />
<line x1="211.4382250000001" y1="782.1099999999999" x2="217.83822500000008" y2="782.1099999999999" stroke="#f4a07a" stroke-width="1" />
<line x1="211.4382250000001" y1="786.795" x2="217.83822500000008" y2="786.795" stroke="#f4a07a" stroke-width="1" />
<line x1="214.6382250000001" y1="799.4445" x2="214.6382250000001" y2="816.3104999999999" stroke="#f07038" stroke-width="1" />
<line x1="211.4382250000001" y1="799.4445" x2="217.83822500000008" y2="799.4445" stroke="#f07038" stroke-width="1" />
<line x1="211.4382250000001" y1="816.3104999999999" x2="217.83822500000008" y2="816.3104999999999" stroke="#f07038" stroke-width="1" />
<rect x="212.23822500000009" y="805.4775" width="4.8" height="4.8" fill="#f07038" stroke="none" stroke-width="1" />
<rect x="212.5382250000001" y="782.3525" width="4.2" height="4.2" fill="#fff" stroke="#f07038" stroke-width="1.4" />
<line x1="242.8109800000001" y1="783.047" x2="242.8109800000001" y2="789.6060000000001" stroke="#f4a07a" stroke-width="1" />
<line x1="239.6109800000001" y1="783.047" x2="246.01098000000007" y2="783.047" stroke="#f4a07a" stroke-width="1" />
<line x1="239.6109800000001" y1="789.6060000000001" x2="246.01098000000007" y2="789.6060000000001" stroke="#f4a07a" stroke-width="1" />
<line x1="242.8109800000001" y1="753.5315" x2="242.8109800000001" y2="759.1535" stroke="#f07038" stroke-width="1" />
<line x1="239.6109800000001" y1="753.5315" x2="246.01098000000007" y2="753.5315" stroke="#f07038" stroke-width="1" />
<line x1="239.6109800000001" y1="759.1535" x2="246.01098000000007" y2="759.1535" stroke="#f07038" stroke-width="1" />
<rect x="240.41098000000008" y="753.9425" width="4.8" height="4.8" fill="#f07038" stroke="none" stroke-width="1" />
<rect x="240.7109800000001" y="784.2265000000001" width="4.2" height="4.2" fill="#fff" stroke="#f07038" stroke-width="1.4" />
<line x1="270.9837350000001" y1="788.669" x2="270.9837350000001" y2="791.48" stroke="#f4a07a" stroke-width="1" />
<line x1="267.7837350000001" y1="788.669" x2="274.18373500000007" y2="788.669" stroke="#f4a07a" stroke-width="1" />
<line x1="267.7837350000001" y1="791.48" x2="274.18373500000007" y2="791.48" stroke="#f4a07a" stroke-width="1" />
<line x1="270.9837350000001" y1="707.6184999999999" x2="270.9837350000001" y2="710.4295" stroke="#f07038" stroke-width="1" />
<line x1="267.7837350000001" y1="707.6184999999999" x2="274.18373500000007" y2="707.6184999999999" stroke="#f07038" stroke-width="1" />
<line x1="267.7837350000001" y1="710.4295" x2="274.18373500000007" y2="710.4295" stroke="#f07038" stroke-width="1" />
<rect x="268.5837350000001" y="706.6239999999999" width="4.8" height="4.8" fill="#f07038" stroke="none" stroke-width="1" />
<rect x="268.88373500000006" y="787.9744999999999" width="4.2" height="4.2" fill="#fff" stroke="#f07038" stroke-width="1.4" />
<line x1="299.1564900000001" y1="778.362" x2="299.1564900000001" y2="794.2910000000002" stroke="#f4a07a" stroke-width="1" />
<line x1="295.9564900000001" y1="778.362" x2="302.35649000000006" y2="778.362" stroke="#f4a07a" stroke-width="1" />
<line x1="295.9564900000001" y1="794.2910000000002" x2="302.35649000000006" y2="794.2910000000002" stroke="#f4a07a" stroke-width="1" />
<line x1="299.1564900000001" y1="680.4454999999999" x2="299.1564900000001" y2="696.3745000000001" stroke="#f07038" stroke-width="1" />
<line x1="295.9564900000001" y1="680.4454999999999" x2="302.35649000000006" y2="680.4454999999999" stroke="#f07038" stroke-width="1" />
<line x1="295.9564900000001" y1="696.3745000000001" x2="302.35649000000006" y2="696.3745000000001" stroke="#f07038" stroke-width="1" />
<rect x="296.7564900000001" y="686.0100000000001" width="4.8" height="4.8" fill="#f07038" stroke="none" stroke-width="1" />
<rect x="297.05649000000005" y="784.2265000000001" width="4.2" height="4.2" fill="#fff" stroke="#f07038" stroke-width="1.4" />
<text x="272.2" y="684.0" font-size="13.2" fill="#f07038" font-weight="normal" font-style="normal" text-anchor="start" >(<tspan font-style="italic">S</tspan>)</text>
<text x="272.0" y="776.2" font-size="13.2" fill="#f07038" font-weight="normal" font-style="normal" text-anchor="start" >(<tspan font-style="italic">R</tspan>)</text>
<rect x="425.8" y="660.2" width="236.2" height="187.5" fill="none" stroke="#231f20" stroke-width="2" />
<line x1="417.3" y1="847.7" x2="425.8" y2="847.7" stroke="#231f20" stroke-width="2" />
<text x="414.0" y="852.5" font-size="14.5" fill="#58595b" font-weight="bold" font-style="normal" text-anchor="end" >0</text>
<line x1="417.3" y1="785.2" x2="425.8" y2="785.2" stroke="#231f20" stroke-width="2" />
<text x="414.0" y="790.0" font-size="14.5" fill="#58595b" font-weight="bold" font-style="normal" text-anchor="end" >1</text>
<line x1="417.3" y1="722.7" x2="425.8" y2="722.7" stroke="#231f20" stroke-width="2" />
<text x="414.0" y="727.5" font-size="14.5" fill="#58595b" font-weight="bold" font-style="normal" text-anchor="end" >2</text>
<line x1="417.3" y1="660.2" x2="425.8" y2="660.2" stroke="#231f20" stroke-width="2" />
<text x="414.0" y="665.0" font-size="14.5" fill="#58595b" font-weight="bold" font-style="normal" text-anchor="end" >3</text>
<line x1="455.325" y1="847.7" x2="455.325" y2="855.5" stroke="#231f20" stroke-width="2" />
<text x="455.325" y="871.9000000000001" font-size="14.5" fill="#58595b" font-weight="bold" font-style="normal" text-anchor="middle" letter-spacing="-0.6">-8</text>
<line x1="514.375" y1="847.7" x2="514.375" y2="855.5" stroke="#231f20" stroke-width="2" />
<text x="514.375" y="871.9000000000001" font-size="14.5" fill="#58595b" font-weight="bold" font-style="normal" text-anchor="middle" letter-spacing="-0.6">-7</text>
<line x1="573.425" y1="847.7" x2="573.425" y2="855.5" stroke="#231f20" stroke-width="2" />
<text x="573.425" y="871.9000000000001" font-size="14.5" fill="#58595b" font-weight="bold" font-style="normal" text-anchor="middle" letter-spacing="-0.6">-6</text>
<line x1="632.475" y1="847.7" x2="632.475" y2="855.5" stroke="#231f20" stroke-width="2" />
<text x="632.475" y="871.9000000000001" font-size="14.5" fill="#58595b" font-weight="bold" font-style="normal" text-anchor="middle" letter-spacing="-0.6">-5</text>
<text x="544.1" y="896" font-size="16.1" fill="#231f20" font-weight="bold" font-style="normal" text-anchor="middle" >Log[Drug]M</text>
<text x="340.3" y="652.4" font-size="25" fill="#231f20" font-weight="bold" font-style="normal" text-anchor="start" >f</text>
<text x="372.5" y="754.3" font-size="18.7" fill="#03a9e1" font-weight="normal" font-style="normal" text-anchor="middle" transform="rotate(-90 372.5 754.3)"><tspan font-style="italic">UBE3A</tspan> (ΔΔCT)</text>
<text x="396.5" y="754.3" font-size="18.7" fill="#e91a8b" font-weight="normal" font-style="normal" text-anchor="middle" transform="rotate(-90 396.5 754.3)"><tspan font-style="italic">UBE3A-ATS</tspan> (ΔΔCT)</text>
<path d="M425.80,805.19 L427.77,805.19 L429.74,805.19 L431.70,805.19 L433.67,805.19 L435.64,805.19 L437.61,805.19 L439.58,805.18 L441.55,805.18 L443.52,805.18 L445.48,805.17 L447.45,805.17 L449.42,805.17 L451.39,805.16 L453.36,805.15 L455.32,805.15 L457.29,805.14 L459.26,805.13 L461.23,805.11 L463.20,805.10 L465.17,805.08 L467.13,805.06 L469.10,805.04 L471.07,805.02 L473.04,804.98 L475.01,804.95 L476.98,804.91 L478.95,804.86 L480.91,804.80 L482.88,804.74 L484.85,804.66 L486.82,804.57 L488.79,804.47 L490.75,804.35 L492.72,804.21 L494.69,804.04 L496.66,803.86 L498.63,803.63 L500.60,803.38 L502.56,803.08 L504.53,802.74 L506.50,802.34 L508.47,801.88 L510.44,801.35 L512.41,800.73 L514.38,800.02 L516.34,799.21 L518.31,798.27 L520.28,797.20 L522.25,795.98 L524.22,794.59 L526.19,793.01 L528.15,791.23 L530.12,789.23 L532.09,787.00 L534.06,784.51 L536.03,781.76 L538.00,778.76 L539.96,775.48 L541.93,771.96 L543.90,768.19 L545.87,764.20 L547.84,760.03 L549.80,755.71 L551.77,751.28 L553.74,746.81 L555.71,742.33 L557.68,737.91 L559.65,733.58 L561.62,729.41 L563.58,725.41 L565.55,721.64 L567.52,718.11 L569.49,714.83 L571.46,711.82 L573.42,709.07 L575.39,706.58 L577.36,704.34 L579.33,702.33 L581.30,700.55 L583.27,698.96 L585.24,697.57 L587.20,696.35 L589.17,695.27 L591.14,694.33 L593.11,693.52 L595.08,692.81 L597.05,692.19 L599.01,691.66 L600.98,691.19 L602.95,690.79 L604.92,690.45 L606.89,690.15 L608.86,689.89 L610.82,689.67 L612.79,689.48 L614.76,689.32 L616.73,689.18 L618.70,689.06 L620.66,688.96 L622.63,688.87 L624.60,688.79 L626.57,688.72 L628.54,688.67 L630.51,688.62 L632.48,688.58 L634.44,688.54 L636.41,688.51 L638.38,688.48 L640.35,688.46 L642.32,688.44 L644.29,688.43 L646.25,688.41 L648.22,688.40 L650.19,688.39 L652.16,688.38 L654.13,688.37 L656.10,688.36 L658.06,688.36 L660.03,688.35 L662.00,688.35" stroke="#03a9e1" stroke-width="2" fill="none"  stroke-linejoin="round"/>
<path d="M425.80,787.40 L427.77,787.40 L429.74,787.40 L431.70,787.41 L433.67,787.41 L435.64,787.41 L437.61,787.42 L439.58,787.42 L441.55,787.43 L443.52,787.43 L445.48,787.44 L447.45,787.45 L449.42,787.45 L451.39,787.46 L453.36,787.48 L455.32,787.49 L457.29,787.51 L459.26,787.52 L461.23,787.55 L463.20,787.57 L465.17,787.60 L467.13,787.63 L469.10,787.67 L471.07,787.71 L473.04,787.76 L475.01,787.82 L476.98,787.88 L478.95,787.96 L480.91,788.04 L482.88,788.14 L484.85,788.26 L486.82,788.39 L488.79,788.54 L490.75,788.71 L492.72,788.91 L494.69,789.13 L496.66,789.39 L498.63,789.68 L500.60,790.01 L502.56,790.39 L504.53,790.81 L506.50,791.29 L508.47,791.83 L510.44,792.43 L512.41,793.10 L514.38,793.85 L516.34,794.67 L518.31,795.58 L520.28,796.56 L522.25,797.63 L524.22,798.77 L526.19,800.00 L528.15,801.29 L530.12,802.65 L532.09,804.06 L534.06,805.51 L536.03,806.99 L538.00,808.48 L539.96,809.97 L541.93,811.44 L543.90,812.87 L545.87,814.26 L547.84,815.60 L549.80,816.86 L551.77,818.05 L553.74,819.17 L555.71,820.20 L557.68,821.15 L559.65,822.02 L561.62,822.81 L563.58,823.52 L565.55,824.17 L567.52,824.74 L569.49,825.25 L571.46,825.71 L573.42,826.11 L575.39,826.47 L577.36,826.78 L579.33,827.06 L581.30,827.30 L583.27,827.52 L585.24,827.70 L587.20,827.86 L589.17,828.01 L591.14,828.13 L593.11,828.24 L595.08,828.33 L597.05,828.41 L599.01,828.48 L600.98,828.55 L602.95,828.60 L604.92,828.65 L606.89,828.69 L608.86,828.72 L610.82,828.75 L612.79,828.78 L614.76,828.80 L616.73,828.82 L618.70,828.84 L620.66,828.85 L622.63,828.87 L624.60,828.88 L626.57,828.89 L628.54,828.90 L630.51,828.90 L632.48,828.91 L634.44,828.91 L636.41,828.92 L638.38,828.92 L640.35,828.93 L642.32,828.93 L644.29,828.93 L646.25,828.93 L648.22,828.94 L650.19,828.94 L652.16,828.94 L654.13,828.94 L656.10,828.94 L658.06,828.94 L660.03,828.94 L662.00,828.95" stroke="#e91a8b" stroke-width="2" fill="none"  stroke-linejoin="round"/>
<path d="M425.80,791.41 L427.77,791.41 L429.74,791.40 L431.70,791.40 L433.67,791.39 L435.64,791.39 L437.61,791.38 L439.58,791.38 L441.55,791.37 L443.52,791.36 L445.48,791.35 L447.45,791.35 L449.42,791.34 L451.39,791.33 L453.36,791.31 L455.32,791.30 L457.29,791.29 L459.26,791.27 L461.23,791.26 L463.20,791.24 L465.17,791.22 L467.13,791.20 L469.10,791.18 L471.07,791.16 L473.04,791.13 L475.01,791.11 L476.98,791.08 L478.95,791.05 L480.91,791.02 L482.88,790.98 L484.85,790.95 L486.82,790.91 L488.79,790.87 L490.75,790.83 L492.72,790.78 L494.69,790.74 L496.66,790.69 L498.63,790.64 L500.60,790.59 L502.56,790.54 L504.53,790.48 L506.50,790.43 L508.47,790.37 L510.44,790.31 L512.41,790.26 L514.38,790.20 L516.34,790.14 L518.31,790.09 L520.28,790.03 L522.25,789.97 L524.22,789.92 L526.19,789.86 L528.15,789.81 L530.12,789.76 L532.09,789.71 L534.06,789.66 L536.03,789.62 L538.00,789.57 L539.96,789.53 L541.93,789.49 L543.90,789.45 L545.87,789.42 L547.84,789.38 L549.80,789.35 L551.77,789.32 L553.74,789.29 L555.71,789.27 L557.68,789.24 L559.65,789.22 L561.62,789.20 L563.58,789.18 L565.55,789.16 L567.52,789.14 L569.49,789.13 L571.46,789.11 L573.42,789.10 L575.39,789.09 L577.36,789.07 L579.33,789.06 L581.30,789.05 L583.27,789.05 L585.24,789.04 L587.20,789.03 L589.17,789.02 L591.14,789.02 L593.11,789.01 L595.08,789.01 L597.05,789.00 L599.01,789.00 L600.98,788.99 L602.95,788.99 L604.92,788.99 L606.89,788.98 L608.86,788.98 L610.82,788.98 L612.79,788.97 L614.76,788.97 L616.73,788.97 L618.70,788.97 L620.66,788.97 L622.63,788.97 L624.60,788.96 L626.57,788.96 L628.54,788.96 L630.51,788.96 L632.48,788.96 L634.44,788.96 L636.41,788.96 L638.38,788.96 L640.35,788.96 L642.32,788.96 L644.29,788.96 L646.25,788.96 L648.22,788.95 L650.19,788.95 L652.16,788.95 L654.13,788.95 L656.10,788.95 L658.06,788.95 L660.03,788.95 L662.00,788.95" stroke="#03a9e1" stroke-width="2" fill="none" stroke-dasharray="5.6 3.6" stroke-linejoin="round"/>
<path d="M425.80,801.67 L427.77,801.66 L429.74,801.65 L431.70,801.64 L433.67,801.62 L435.64,801.60 L437.61,801.58 L439.58,801.56 L441.55,801.53 L443.52,801.50 L445.48,801.47 L447.45,801.43 L449.42,801.39 L451.39,801.34 L453.36,801.29 L455.32,801.23 L457.29,801.16 L459.26,801.08 L461.23,801.00 L463.20,800.90 L465.17,800.80 L467.13,800.68 L469.10,800.55 L471.07,800.41 L473.04,800.25 L475.01,800.07 L476.98,799.88 L478.95,799.67 L480.91,799.44 L482.88,799.18 L484.85,798.91 L486.82,798.61 L488.79,798.29 L490.75,797.95 L492.72,797.59 L494.69,797.21 L496.66,796.81 L498.63,796.39 L500.60,795.95 L502.56,795.50 L504.53,795.04 L506.50,794.58 L508.47,794.11 L510.44,793.64 L512.41,793.17 L514.38,792.71 L516.34,792.26 L518.31,791.83 L520.28,791.41 L522.25,791.00 L524.22,790.62 L526.19,790.26 L528.15,789.92 L530.12,789.60 L532.09,789.30 L534.06,789.03 L536.03,788.78 L538.00,788.54 L539.96,788.33 L541.93,788.14 L543.90,787.96 L545.87,787.80 L547.84,787.66 L549.80,787.53 L551.77,787.41 L553.74,787.31 L555.71,787.21 L557.68,787.13 L559.65,787.05 L561.62,786.99 L563.58,786.93 L565.55,786.87 L567.52,786.83 L569.49,786.78 L571.46,786.75 L573.42,786.71 L575.39,786.68 L577.36,786.66 L579.33,786.63 L581.30,786.61 L583.27,786.59 L585.24,786.58 L587.20,786.56 L589.17,786.55 L591.14,786.54 L593.11,786.53 L595.08,786.52 L597.05,786.51 L599.01,786.50 L600.98,786.50 L602.95,786.49 L604.92,786.49 L606.89,786.48 L608.86,786.48 L610.82,786.48 L612.79,786.47 L614.76,786.47 L616.73,786.47 L618.70,786.47 L620.66,786.46 L622.63,786.46 L624.60,786.46 L626.57,786.46 L628.54,786.46 L630.51,786.46 L632.48,786.46 L634.44,786.46 L636.41,786.46 L638.38,786.45 L640.35,786.45 L642.32,786.45 L644.29,786.45 L646.25,786.45 L648.22,786.45 L650.19,786.45 L652.16,786.45 L654.13,786.45 L656.10,786.45 L658.06,786.45 L660.03,786.45 L662.00,786.45" stroke="#e91a8b" stroke-width="2" fill="none" stroke-dasharray="6.2 3.1" stroke-linejoin="round"/>
<line x1="429.8744500000001" y1="785.825" x2="429.8744500000001" y2="790.825" stroke="#e91a8b" stroke-width="1" />
<line x1="426.6744500000001" y1="785.825" x2="433.07445000000007" y2="785.825" stroke="#e91a8b" stroke-width="1" />
<line x1="426.6744500000001" y1="790.825" x2="433.07445000000007" y2="790.825" stroke="#e91a8b" stroke-width="1" />
<polygon points="429.87,785.55 426.57,791.35 433.17,791.35" fill="#e91a8b" />
<circle cx="429.87" cy="805.20" r="2.5" fill="#03a9e1"/>
<circle cx="429.87" cy="791.45" r="2.1" fill="#fff" stroke="#03a9e1" stroke-width="1.3"/>
<polygon points="429.87,801.98 427.57,806.48 432.17,806.48" fill="#fff" stroke="#e91a8b" stroke-width="1.2"/>
<line x1="458.0472050000001" y1="765.825" x2="458.0472050000001" y2="788.325" stroke="#e91a8b" stroke-width="1" />
<line x1="454.8472050000001" y1="765.825" x2="461.24720500000006" y2="765.825" stroke="#e91a8b" stroke-width="1" />
<line x1="454.8472050000001" y1="788.325" x2="461.24720500000006" y2="788.325" stroke="#e91a8b" stroke-width="1" />
<polygon points="458.05,775.24 454.75,781.04 461.35,781.04" fill="#e91a8b" />
<circle cx="458.05" cy="805.20" r="2.5" fill="#03a9e1"/>
<circle cx="458.05" cy="788.95" r="2.1" fill="#fff" stroke="#03a9e1" stroke-width="1.3"/>
<polygon points="458.05,801.35 455.75,805.85 460.35,805.85" fill="#fff" stroke="#e91a8b" stroke-width="1.2"/>
<line x1="486.21996000000007" y1="785.825" x2="486.21996000000007" y2="790.825" stroke="#e91a8b" stroke-width="1" />
<line x1="483.0199600000001" y1="785.825" x2="489.41996000000006" y2="785.825" stroke="#e91a8b" stroke-width="1" />
<line x1="483.0199600000001" y1="790.825" x2="489.41996000000006" y2="790.825" stroke="#e91a8b" stroke-width="1" />
<polygon points="486.22,785.55 482.92,791.35 489.52,791.35" fill="#e91a8b" />
<circle cx="486.22" cy="805.20" r="2.5" fill="#03a9e1"/>
<polygon points="486.22,795.73 483.92,800.23 488.52,800.23" fill="#fff" stroke="#e91a8b" stroke-width="1.2"/>
<line x1="514.3927150000001" y1="791.45" x2="514.3927150000001" y2="796.45" stroke="#e91a8b" stroke-width="1" />
<line x1="511.1927150000001" y1="791.45" x2="517.5927150000001" y2="791.45" stroke="#e91a8b" stroke-width="1" />
<line x1="511.1927150000001" y1="796.45" x2="517.5927150000001" y2="796.45" stroke="#e91a8b" stroke-width="1" />
<polygon points="514.39,791.18 511.09,796.98 517.69,796.98" fill="#e91a8b" />
<circle cx="514.39" cy="800.51" r="2.5" fill="#03a9e1"/>
<circle cx="514.39" cy="785.83" r="2.1" fill="#fff" stroke="#03a9e1" stroke-width="1.3"/>
<polygon points="514.39,788.23 512.09,792.73 516.69,792.73" fill="#fff" stroke="#e91a8b" stroke-width="1.2"/>
<line x1="542.5654700000001" y1="808.6375" x2="542.5654700000001" y2="813.6375" stroke="#e91a8b" stroke-width="1" />
<line x1="539.3654700000001" y1="808.6375" x2="545.7654700000002" y2="808.6375" stroke="#e91a8b" stroke-width="1" />
<line x1="539.3654700000001" y1="813.6375" x2="545.7654700000002" y2="813.6375" stroke="#e91a8b" stroke-width="1" />
<polygon points="542.57,808.36 539.27,814.16 545.87,814.16" fill="#e91a8b" />
<circle cx="542.57" cy="770.83" r="2.5" fill="#03a9e1"/>
<circle cx="542.57" cy="782.08" r="2.1" fill="#fff" stroke="#03a9e1" stroke-width="1.3"/>
<polygon points="542.57,786.35 540.27,790.85 544.87,790.85" fill="#fff" stroke="#e91a8b" stroke-width="1.2"/>
<line x1="570.738225" y1="822.3875" x2="570.738225" y2="827.3875" stroke="#e91a8b" stroke-width="1" />
<line x1="567.538225" y1="822.3875" x2="573.9382250000001" y2="822.3875" stroke="#e91a8b" stroke-width="1" />
<line x1="567.538225" y1="827.3875" x2="573.9382250000001" y2="827.3875" stroke="#e91a8b" stroke-width="1" />
<polygon points="570.74,822.11 567.44,827.91 574.04,827.91" fill="#e91a8b" />
<circle cx="570.74" cy="713.01" r="2.5" fill="#03a9e1"/>
<circle cx="570.74" cy="788.33" r="2.1" fill="#fff" stroke="#03a9e1" stroke-width="1.3"/>
<polygon points="570.74,785.73 568.44,790.23 573.04,790.23" fill="#fff" stroke="#e91a8b" stroke-width="1.2"/>
<circle cx="598.91" cy="789.58" r="2.1" fill="#fff" stroke="#03a9e1" stroke-width="1.3"/>
<polygon points="598.91,785.73 596.61,790.23 601.21,790.23" fill="#fff" stroke="#e91a8b" stroke-width="1.2"/>
<circle cx="627.08" cy="790.20" r="2.1" fill="#fff" stroke="#03a9e1" stroke-width="1.3"/>
<polygon points="627.08,777.60 624.78,782.10 629.38,782.10" fill="#fff" stroke="#e91a8b" stroke-width="1.2"/>
<text x="593.0" y="683.8" font-size="13.2" fill="#03a9e1" font-weight="normal" font-style="normal" text-anchor="start" >(<tspan font-style="italic">S</tspan>)</text>
<text x="593.0" y="821.4" font-size="13.2" fill="#e91a8b" font-weight="normal" font-style="normal" text-anchor="start" >(<tspan font-style="italic">S</tspan>)</text>
<text x="581.4" y="777.4" font-size="13.2" fill="#03a9e1" font-weight="normal" font-style="normal" text-anchor="start" >(<tspan font-style="italic">R</tspan>)</text>
<text x="602.8" y="777.4" font-size="13.2" fill="#e91a8b" font-weight="normal" font-style="normal" text-anchor="start" >(<tspan font-style="italic">R</tspan>)</text>
<rect x="46.9" y="905.5" width="590.2" height="26" fill="none" stroke="#231f20" stroke-width="1.6" />
<line x1="57.2" y1="919.5" x2="83.4" y2="919.5" stroke="#f07038" stroke-width="2" />
<rect x="66.4" y="915.2" width="8.6" height="8.6" fill="#f07038" stroke="none" stroke-width="1" />
<text x="92.8" y="924.9" font-size="13.4" fill="#f07038" font-weight="normal" font-style="normal" text-anchor="start" ><tspan font-style="italic">GAPDH</tspan> (CT values)</text>
<line x1="246" y1="919.5" x2="272" y2="919.5" stroke="#03a9e1" stroke-width="2" />
<circle cx="259.2" cy="919.5" r="4.2" fill="#03a9e1"/>
<text x="284.3" y="924.9" font-size="13.4" fill="#03a9e1" font-weight="normal" font-style="normal" text-anchor="start" ><tspan font-style="italic">UBE3A</tspan> (ΔΔCT values)</text>
<line x1="429.2" y1="919.0" x2="455.5" y2="919.0" stroke="#e91a8b" stroke-width="2" />
<polygon points="442.60,913.60 437.70,923.80 447.90,923.80" fill="#e91a8b" />
<text x="466.6" y="924.9" font-size="13.55" fill="#e91a8b" font-weight="normal" font-style="normal" text-anchor="start" ><tspan font-style="italic">UBE3A-ATS</tspan> (ΔΔCT values)</text>
</svg>
</body></html>
